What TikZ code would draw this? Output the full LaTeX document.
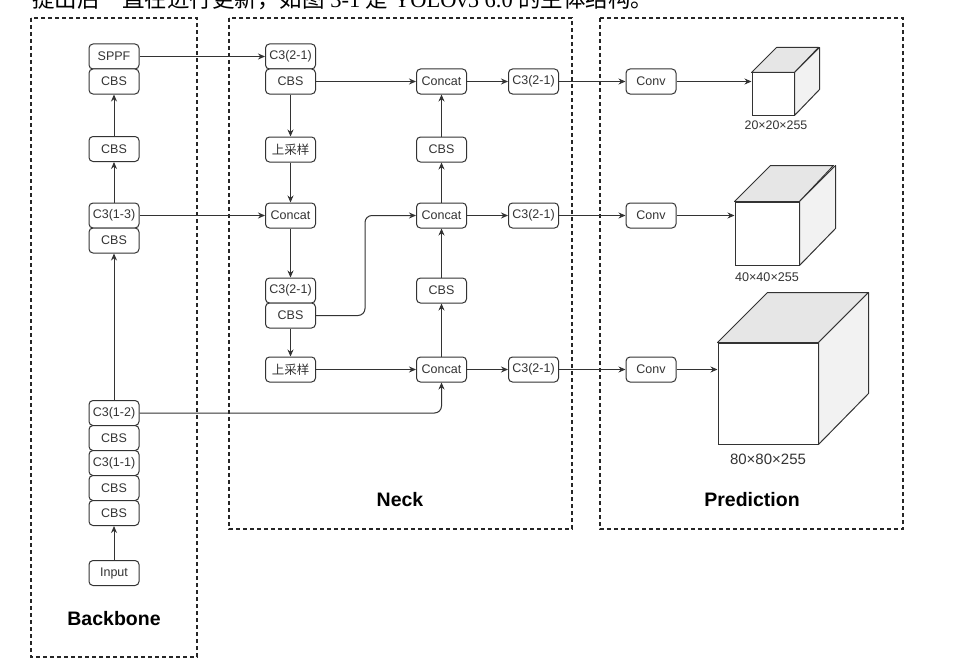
\documentclass[tikz,border=0pt]{standalone}
\usepackage{fontspec}
\setmainfont{Liberation Sans}
\newfontfamily\cjk{Noto Sans CJK SC}
\newfontfamily\capserif{Liberation Serif}
\usetikzlibrary{arrows.meta,calc}

\definecolor{ink}{HTML}{333333}
\definecolor{topface}{HTML}{E6E6E6}
\definecolor{sideface}{HTML}{F2F2F2}

% top and right faces of a cube whose front face is node #1 (edge #2, depth #3)
\newcommand\cubefaces[3]{%
  \filldraw[fill=topface, draw=ink, line width=1pt, line join=round]
    (#1.north west) -- ++(#3,-#3) -- ++(#2,0) -- (#1.north east) -- cycle;
  \filldraw[fill=sideface, draw=ink, line width=1pt, line join=round]
    (#1.north east) -- ++(#3,-#3) -- ++(0,#2) -- (#1.south east) -- cycle;
}

\begin{document}
\begin{tikzpicture}[x=1pt,y=-1pt,
  blk/.style={draw=ink, rounded corners=4pt, minimum width=50pt, minimum height=25pt,
    inner sep=0pt, font=\fontsize{12.5}{12.5}\selectfont, text=ink, fill=white, line width=1pt},
  arr/.style={draw=ink, line width=1pt, -{Stealth[length=7pt,width=6pt]}},
  region/.style={draw=black!85, line width=1.3pt, dash pattern=on 4pt off 3pt},
  title/.style={font=\fontsize{19.5}{20}\selectfont\bfseries, text=black},
  dim/.style={text=ink, inner sep=0pt},
  face/.style={draw=ink, fill=white, inner sep=0pt, line width=1pt}
]
\useasboundingbox (0,0) rectangle (956,669);
\clip (0,0) rectangle (956,669);

% running text of the page above the figure
\node[anchor=base west, inner sep=0pt, font=\fontsize{22.5}{23}\selectfont, text=black] (caption) at (32,8)
  {\cjk 提出后一直在进行更新，如图\capserif{} 3-1 \cjk 是\capserif{} YOLOv5 6.0 \cjk 的主体结构。};

% stage frames
\draw[region] (31,18) rectangle (197,657);
\draw[region] (229,18) rectangle (572,529);
\draw[region] (600,18) rectangle (903,529);

% ---------------- Backbone ----------------
\node[blk] (sppf)  at (114,56.5)  {SPPF};
\node[blk] (bcbs1) at (114,81.5)  {CBS};
\node[blk] (bcbs2) at (114,149)   {CBS};
\node[blk] (c313)  at (114,215.5) {C3(1-3)};
\node[blk] (bcbs3) at (114,240.5) {CBS};
\node[blk] (c312)  at (114,413)   {C3(1-2)};
\node[blk] (bcbs4) at (114,438)   {CBS};
\node[blk] (c311)  at (114,463)   {C3(1-1)};
\node[blk] (bcbs5) at (114,488)   {CBS};
\node[blk] (bcbs6) at (114,513)   {CBS};
\node[blk] (input) at (114,573)   {Input};
\node[title] (bbt) at (114,619) {Backbone};

\draw[arr] (input.north) -- (bcbs6.south);
\draw[arr] (c312.north) -- (bcbs3.south);
\draw[arr] (c313.north) -- (bcbs2.south);
\draw[arr] (bcbs2.north) -- (bcbs1.south);

% ---------------- Neck ----------------
\node[blk] (nc1)   at (290.5,56.5)  {C3(2-1)};
\node[blk] (ncbs1) at (290.5,81.5)  {CBS};
\node[blk] (up1)   at (290.5,149.5) {\cjk 上采样};
\node[blk] (cat1)  at (290.5,215.5) {Concat};
\node[blk] (nc2)   at (290.5,290.5) {C3(2-1)};
\node[blk] (ncbs2) at (290.5,315.5) {CBS};
\node[blk] (up2)   at (290.5,369.5) {\cjk 上采样};

\node[blk] (cat2)  at (441.5,81.5)  {Concat};
\node[blk] (ncbs3) at (441.5,149.5) {CBS};
\node[blk] (cat3)  at (441.5,215.5) {Concat};
\node[blk] (ncbs4) at (441.5,290.5) {CBS};
\node[blk] (cat4)  at (441.5,369.5) {Concat};

\node[blk] (out1) at (533.5,81.5)  {C3(2-1)};
\node[blk] (out2) at (533.5,215.5) {C3(2-1)};
\node[blk] (out3) at (533.5,369.5) {C3(2-1)};

\node[title] (neckt) at (400,500) {Neck};

\draw[arr] (sppf.east) -- (nc1.west);
\draw[arr] (c313.east) -- (cat1.west);
\draw[arr, rounded corners=7pt] (c312.east) -| (cat4.south);
\draw[arr] (ncbs1.east) -- (cat2.west);
\draw[arr] (ncbs1.south) -- (up1.north);
\draw[arr] (up1.south) -- (cat1.north);
\draw[arr] (cat1.south) -- (nc2.north);
\draw[arr] (ncbs2.south) -- (up2.north);
\draw[arr, rounded corners=7pt] (ncbs2.east) -| ([xshift=-51pt]cat3.west) -- (cat3.west);
\draw[arr] (up2.east) -- (cat4.west);
\draw[arr] (cat4.north) -- (ncbs4.south);
\draw[arr] (ncbs4.north) -- (cat3.south);
\draw[arr] (cat3.north) -- (ncbs3.south);
\draw[arr] (ncbs3.north) -- (cat2.south);
\draw[arr] (cat2.east) -- (out1.west);
\draw[arr] (cat3.east) -- (out2.west);
\draw[arr] (cat4.east) -- (out3.west);

% ---------------- Prediction ----------------
\node[blk] (conv1) at (651,81.5)  {Conv};
\node[blk] (conv2) at (651,215.5) {Conv};
\node[blk] (conv3) at (651,369.5) {Conv};

\node[face, minimum width=42pt, minimum height=42pt] (cube1) at (773,94) {};
\node[face, minimum width=64pt, minimum height=63pt] (cube2) at (767,233.5) {};
\node[face, minimum width=100pt, minimum height=101pt] (cube3) at (768,393.5) {};
\cubefaces{cube1}{42}{25}
\cubefaces{cube2}{63}{36}
\cubefaces{cube3}{101}{50}

\node[dim, font=\fontsize{12.4}{13}\selectfont] (lab1) at ([xshift=3pt,yshift=-10pt]cube1.south) {20×20×255};
\node[dim, font=\fontsize{12.6}{13}\selectfont] (lab2) at ([yshift=-12pt]cube2.south) {40×40×255};
\node[dim, font=\fontsize{15}{16}\selectfont] (lab3) at ([yshift=-15pt]cube3.south) {80×80×255};

\node[title] (predt) at (752,500) {Prediction};

\draw[arr] (out1.east) -- (conv1.west);
\draw[arr] (out2.east) -- (conv2.west);
\draw[arr] (out3.east) -- (conv3.west);
\draw[arr] (conv1.east) -- (conv1.east -| cube1.west);
\draw[arr] (conv2.east) -- (conv2.east -| cube2.west);
\draw[arr] (conv3.east) -- (conv3.east -| cube3.west);
\end{tikzpicture}
\end{document}
